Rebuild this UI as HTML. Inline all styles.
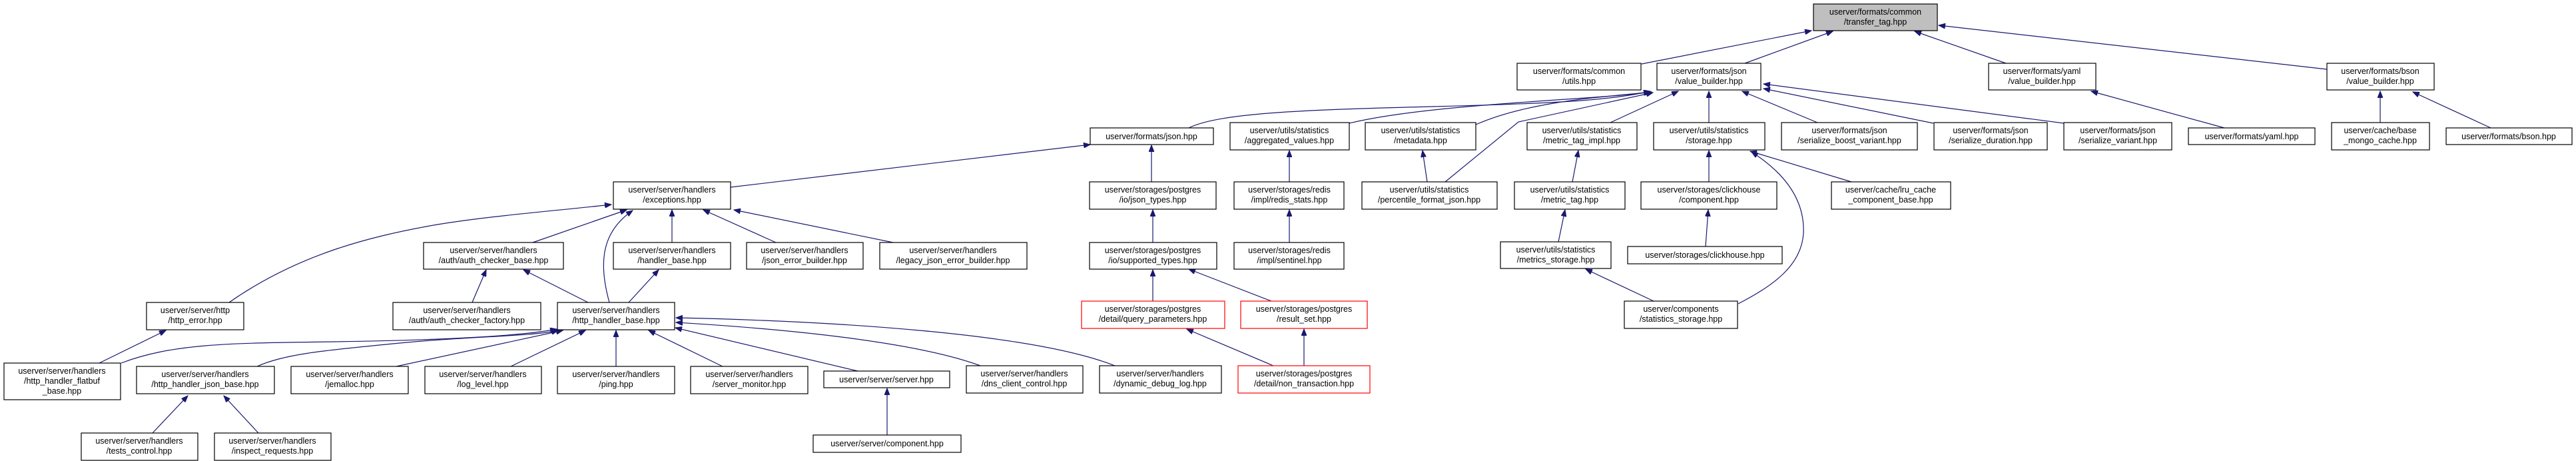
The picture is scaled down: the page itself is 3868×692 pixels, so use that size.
<!DOCTYPE html>
<html><head><meta charset="utf-8"><style>
html,body{margin:0;padding:0;background:#fff;}
svg{display:block;}
text{font-family:"Liberation Sans","DejaVu Sans",sans-serif;font-size:12.5px;fill:#000;text-anchor:middle;}
rect{fill:#fff;stroke:#000;stroke-width:1.2;}
rect.r{stroke:#f00;}
rect.g{fill:#bfbfbf;}
path{fill:none;stroke:#191970;stroke-width:1.2;marker-end:url(#a);}
</style></head><body>
<svg width="3868" height="692" viewBox="0 0 3868 692" xmlns="http://www.w3.org/2000/svg">
<defs><marker id="a" markerUnits="userSpaceOnUse" markerWidth="11" markerHeight="8" refX="10" refY="4" orient="auto"><path d="M0,0 L10,4 L0,8 z" style="fill:#191970;stroke:#191970;stroke-width:1;marker-end:none"/></marker></defs>

<!-- edges -->
<path d="M2465,96 L2720,46"/>
<path d="M2620,95 L2752,47"/>
<path d="M3012,95 L2875,47"/>
<path d="M3494,104 L2911,38"/>
<path d="M1785,192 C1830,170 1950,165 2150,160 S2420,150 2478,137"/>
<path d="M2026,185 C2150,155 2400,150 2478,138"/>
<path d="M2216,187 C2300,150 2420,145 2480,138"/>
<path d="M2170,273 L2280,183 L2482,139"/>
<path d="M2418,184 L2520,137"/>
<path d="M2566,184 L2566,137"/>
<path d="M2729,184 L2616,137"/>
<path d="M2903,185 L2648,133"/>
<path d="M3099,185 L2648,126"/>
<path d="M3340,192 L3140,137"/>
<path d="M3574,184 L3574,137"/>
<path d="M3740,192 L3623,138"/>
<path d="M1097,281 L1637,217"/>
<path d="M1729,273 L1729,218"/>
<path d="M1936,273 L1936,226"/>
<path d="M2143,273 L2136,226"/>
<path d="M2361,273 L2370,226"/>
<path d="M2566,273 L2566,226"/>
<path d="M2780,273 L2628,227"/>
<path d="M2610,456 C2660,430 2705,400 2708,350 C2710,300 2680,260 2630,228"/>
<path d="M800,364 L941,315"/>
<path d="M1009,364 L1009,315"/>
<path d="M1165,364 L1056,315"/>
<path d="M1341,364 L1102,315"/>
<path d="M344,454 C450,380 560,355 640,340 S850,315 918,307"/>
<path d="M915,454 C900,400 900,350 950,316"/>
<path d="M1731,364 L1731,315"/>
<path d="M1936,364 L1936,315"/>
<path d="M2340,363 L2350,315"/>
<path d="M2561,370 L2565,315"/>
<path d="M2483,452 L2381,404"/>
<path d="M709,454 L730,405"/>
<path d="M883,454 L786,405"/>
<path d="M944,454 L989,405"/>
<path d="M1731,452 L1731,405"/>
<path d="M1909,452 L1785,404"/>
<path d="M1912,549 L1782,494"/>
<path d="M1958,549 L1958,494"/>
<path d="M149,545 L249,496"/>
<path d="M182,545 C260,515 350,515 500,513 S780,505 836,494"/>
<path d="M386,550 C430,530 500,525 600,515 S800,505 838,496"/>
<path d="M595,550 L845,496"/>
<path d="M767,550 L879,496"/>
<path d="M925,550 L925,496"/>
<path d="M1085,550 L974,496"/>
<path d="M1288,557 L1014,492"/>
<path d="M1472,549 C1380,515 1200,495 1015,484"/>
<path d="M1674,549 C1550,500 1250,482 1015,477"/>
<path d="M229,650 L282,594"/>
<path d="M388,650 L336,594"/>
<path d="M1332,653 L1332,583"/>

<!-- nodes -->
<rect class="g" x="2723" y="6" width="186" height="40"/><text x="2816" y="22">userver/formats/common</text><text x="2816" y="37">/transfer_tag.hpp</text>
<rect x="2278" y="95" width="186" height="40"/><text x="2371" y="111">userver/formats/common</text><text x="2371" y="126">/utils.hpp</text>
<rect x="2488" y="95" width="156" height="40"/><text x="2566" y="111">userver/formats/json</text><text x="2566" y="126">/value_builder.hpp</text>
<rect x="2986" y="95" width="161" height="40"/><text x="3066" y="111">userver/formats/yaml</text><text x="3066" y="126">/value_builder.hpp</text>
<rect x="3494" y="95" width="161" height="40"/><text x="3574" y="111">userver/formats/bson</text><text x="3574" y="126">/value_builder.hpp</text>

<rect x="1637" y="192" width="185" height="25"/><text x="1729" y="209">userver/formats/json.hpp</text>
<rect x="1847" y="184" width="179" height="41"/><text x="1936" y="200">userver/utils/statistics</text><text x="1936" y="215">/aggregated_values.hpp</text>
<rect x="2050" y="184" width="166" height="41"/><text x="2133" y="200">userver/utils/statistics</text><text x="2133" y="215">/metadata.hpp</text>
<rect x="2293" y="184" width="165" height="41"/><text x="2375" y="200">userver/utils/statistics</text><text x="2375" y="215">/metric_tag_impl.hpp</text>
<rect x="2483" y="184" width="167" height="41"/><text x="2566" y="200">userver/utils/statistics</text><text x="2566" y="215">/storage.hpp</text>
<rect x="2675" y="184" width="204" height="41"/><text x="2777" y="200">userver/formats/json</text><text x="2777" y="215">/serialize_boost_variant.hpp</text>
<rect x="2904" y="184" width="170" height="41"/><text x="2989" y="200">userver/formats/json</text><text x="2989" y="215">/serialize_duration.hpp</text>
<rect x="3099" y="184" width="162" height="41"/><text x="3180" y="200">userver/formats/json</text><text x="3180" y="215">/serialize_variant.hpp</text>
<rect x="3286" y="192" width="190" height="25"/><text x="3381" y="209">userver/formats/yaml.hpp</text>
<rect x="3501" y="184" width="147" height="41"/><text x="3574" y="200">userver/cache/base</text><text x="3574" y="215">_mongo_cache.hpp</text>
<rect x="3673" y="192" width="189" height="25"/><text x="3767" y="209">userver/formats/bson.hpp</text>

<rect x="921" y="273" width="176" height="41"/><text x="1009" y="289">userver/server/handlers</text><text x="1009" y="304">/exceptions.hpp</text>
<rect x="1636" y="273" width="190" height="41"/><text x="1731" y="289">userver/storages/postgres</text><text x="1731" y="304">/io/json_types.hpp</text>
<rect x="1853" y="273" width="165" height="41"/><text x="1936" y="289">userver/storages/redis</text><text x="1936" y="304">/impl/redis_stats.hpp</text>
<rect x="2045" y="273" width="203" height="41"/><text x="2146" y="289">userver/utils/statistics</text><text x="2146" y="304">/percentile_format_json.hpp</text>
<rect x="2274" y="273" width="166" height="41"/><text x="2357" y="289">userver/utils/statistics</text><text x="2357" y="304">/metric_tag.hpp</text>
<rect x="2464" y="273" width="204" height="41"/><text x="2566" y="289">userver/storages/clickhouse</text><text x="2566" y="304">/component.hpp</text>
<rect x="2750" y="273" width="179" height="41"/><text x="2839" y="289">userver/cache/lru_cache</text><text x="2839" y="304">_component_base.hpp</text>

<rect x="636" y="364" width="210" height="40"/><text x="741" y="380">userver/server/handlers</text><text x="741" y="395">/auth/auth_checker_base.hpp</text>
<rect x="921" y="364" width="176" height="40"/><text x="1009" y="380">userver/server/handlers</text><text x="1009" y="395">/handler_base.hpp</text>
<rect x="1121" y="364" width="175" height="40"/><text x="1208" y="380">userver/server/handlers</text><text x="1208" y="395">/json_error_builder.hpp</text>
<rect x="1321" y="364" width="221" height="40"/><text x="1431" y="380">userver/server/handlers</text><text x="1431" y="395">/legacy_json_error_builder.hpp</text>
<rect x="1636" y="364" width="191" height="40"/><text x="1731" y="380">userver/storages/postgres</text><text x="1731" y="395">/io/supported_types.hpp</text>
<rect x="1853" y="364" width="165" height="40"/><text x="1936" y="380">userver/storages/redis</text><text x="1936" y="395">/impl/sentinel.hpp</text>
<rect x="2253" y="363" width="166" height="40"/><text x="2336" y="379">userver/utils/statistics</text><text x="2336" y="394">/metrics_storage.hpp</text>
<rect x="2444" y="370" width="232" height="26"/><text x="2560" y="387">userver/storages/clickhouse.hpp</text>

<rect x="220" y="454" width="146" height="41"/><text x="293" y="470">userver/server/http</text><text x="293" y="485">/http_error.hpp</text>
<rect x="590" y="454" width="222" height="41"/><text x="701" y="470">userver/server/handlers</text><text x="701" y="485">/auth/auth_checker_factory.hpp</text>
<rect x="837" y="454" width="176" height="41"/><text x="925" y="470">userver/server/handlers</text><text x="925" y="485">/http_handler_base.hpp</text>
<rect class="r" x="1624" y="452" width="215" height="41"/><text x="1731" y="468">userver/storages/postgres</text><text x="1731" y="483">/detail/query_parameters.hpp</text>
<rect class="r" x="1863" y="452" width="190" height="41"/><text x="1958" y="468">userver/storages/postgres</text><text x="1958" y="483">/result_set.hpp</text>
<rect x="2439" y="452" width="170" height="41"/><text x="2524" y="468">userver/components</text><text x="2524" y="483">/statistics_storage.hpp</text>

<rect x="6" y="545" width="175" height="55"/><text x="93" y="561">userver/server/handlers</text><text x="93" y="576">/http_handler_flatbuf</text><text x="93" y="591">_base.hpp</text>
<rect x="205" y="550" width="207" height="41"/><text x="308" y="566">userver/server/handlers</text><text x="308" y="581">/http_handler_json_base.hpp</text>
<rect x="437" y="550" width="176" height="41"/><text x="525" y="566">userver/server/handlers</text><text x="525" y="581">/jemalloc.hpp</text>
<rect x="638" y="550" width="175" height="41"/><text x="725" y="566">userver/server/handlers</text><text x="725" y="581">/log_level.hpp</text>
<rect x="837" y="550" width="176" height="41"/><text x="925" y="566">userver/server/handlers</text><text x="925" y="581">/ping.hpp</text>
<rect x="1037" y="550" width="176" height="41"/><text x="1125" y="566">userver/server/handlers</text><text x="1125" y="581">/server_monitor.hpp</text>
<rect x="1237" y="557" width="189" height="25"/><text x="1331" y="574">userver/server/server.hpp</text>
<rect x="1451" y="549" width="175" height="41"/><text x="1538" y="565">userver/server/handlers</text><text x="1538" y="580">/dns_client_control.hpp</text>
<rect x="1651" y="549" width="183" height="41"/><text x="1742" y="565">userver/server/handlers</text><text x="1742" y="580">/dynamic_debug_log.hpp</text>
<rect class="r" x="1859" y="549" width="198" height="41"/><text x="1958" y="565">userver/storages/postgres</text><text x="1958" y="580">/detail/non_transaction.hpp</text>

<rect x="122" y="650" width="175" height="41"/><text x="209" y="666">userver/server/handlers</text><text x="209" y="681">/tests_control.hpp</text>
<rect x="322" y="650" width="175" height="41"/><text x="409" y="666">userver/server/handlers</text><text x="409" y="681">/inspect_requests.hpp</text>
<rect x="1221" y="653" width="222" height="26"/><text x="1332" y="670">userver/server/component.hpp</text>
</svg>
</body></html>
